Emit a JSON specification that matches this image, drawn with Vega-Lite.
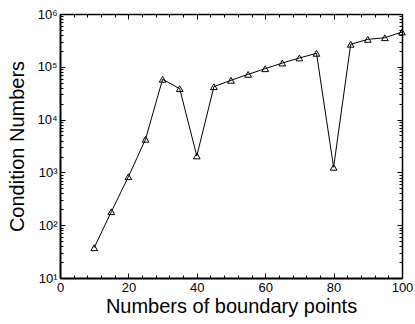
{
  "$schema": "https://vega.github.io/schema/vega-lite/v6.json",
  "autosize": "none",
  "padding": {"left": 60, "top": 14, "right": 13, "bottom": 46},
  "width": 342,
  "height": 264,
  "background": "white",
  "config": {
    "view": {"stroke": null},
    "font": "Liberation Sans",
    "axis": {"grid": false, "domainColor": "black", "tickColor": "black", "labelColor": "black", "titleColor": "black", "labelFont": "Liberation Sans", "titleFont": "Liberation Sans", "labelFontSize": 13, "titleFontSize": 20, "titleFontWeight": "normal"}
  },
  "data": {"values": [
    {"n": 10, "c": 37.5},
    {"n": 15, "c": 180},
    {"n": 20, "c": 828},
    {"n": 25, "c": 4240},
    {"n": 30, "c": 58000},
    {"n": 35, "c": 38500},
    {"n": 40, "c": 2050},
    {"n": 45, "c": 42000},
    {"n": 50, "c": 55500},
    {"n": 55, "c": 72000},
    {"n": 60, "c": 92000},
    {"n": 65, "c": 118000},
    {"n": 70, "c": 147000},
    {"n": 75, "c": 180000},
    {"n": 80, "c": 1250},
    {"n": 85, "c": 267000},
    {"n": 90, "c": 331000},
    {"n": 95, "c": 355000},
    {"n": 100, "c": 456000}
  ]},
  "layer": [
    {
      "mark": {"type": "line", "color": "black", "strokeWidth": 1, "point": {"shape": "triangle-up", "filled": false, "stroke": "black", "strokeWidth": 1, "size": 45}},
      "encoding": {
        "x": {"field": "n", "type": "quantitative", "scale": {"domain": [0, 100], "nice": false, "zero": false},
          "axis": {"orient": "bottom", "title": "Numbers of boundary points", "values": [0,4,8,12,16,20,24,28,32,36,40,44,48,52,56,60,64,68,72,76,80,84,88,92,96,100],
            "labelExpr": "datum.value % 20 === 0 ? datum.label : ''", "tickSize": {"condition": {"test": "datum.value % 20 === 0", "value": -5}, "value": -3}, "labelPadding": 8, "domainWidth": 2, "tickWidth": 1, "titlePadding": 2, "labelFlush": false}},
        "y": {"field": "c", "type": "quantitative", "scale": {"type": "log", "domain": [10, 1000000], "nice": false},
          "axis": {"orient": "left", "title": "Condition Numbers", "values": [10,20,30,40,50,60,70,80,90,100,200,300,400,500,600,700,800,900,1000,2000,3000,4000,5000,6000,7000,8000,9000,10000,20000,30000,40000,50000,60000,70000,80000,90000,100000,200000,300000,400000,500000,600000,700000,800000,900000,1000000],
            "labelExpr": "abs(log(datum.value)/LN10 - round(log(datum.value)/LN10)) < 1e-6 ? '10' + ['⁰','¹','²','³','⁴','⁵','⁶'][round(log(datum.value)/LN10)] : ''",
            "tickSize": {"condition": {"test": "abs(log(datum.value)/LN10 - round(log(datum.value)/LN10)) < 1e-6", "value": -5}, "value": -3}, "labelPadding": 8, "domainWidth": 2, "tickWidth": 1, "titlePadding": 9, "labelFlush": false}}
      }
    },
    {
      "mark": {"type": "point", "opacity": 0},
      "encoding": {
        "x": {"field": "n", "type": "quantitative", "scale": {"domain": [0, 100], "nice": false, "zero": false},
          "axis": {"orient": "top", "title": null, "labels": false, "values": [0,4,8,12,16,20,24,28,32,36,40,44,48,52,56,60,64,68,72,76,80,84,88,92,96,100], "tickSize": {"condition": {"test": "datum.value % 20 === 0", "value": -5}, "value": -3}, "domainWidth": 1.5}},
        "y": {"field": "c", "type": "quantitative", "scale": {"type": "log", "domain": [10, 1000000], "nice": false},
          "axis": {"orient": "right", "title": null, "labels": false, "values": [10,20,30,40,50,60,70,80,90,100,200,300,400,500,600,700,800,900,1000,2000,3000,4000,5000,6000,7000,8000,9000,10000,20000,30000,40000,50000,60000,70000,80000,90000,100000,200000,300000,400000,500000,600000,700000,800000,900000,1000000],
            "tickSize": {"condition": {"test": "abs(log(datum.value)/LN10 - round(log(datum.value)/LN10)) < 1e-6", "value": -5}, "value": -3}, "domainWidth": 1.5}}
      }
    }
  ],
  "resolve": {"axis": {"x": "independent", "y": "independent"}}
}
